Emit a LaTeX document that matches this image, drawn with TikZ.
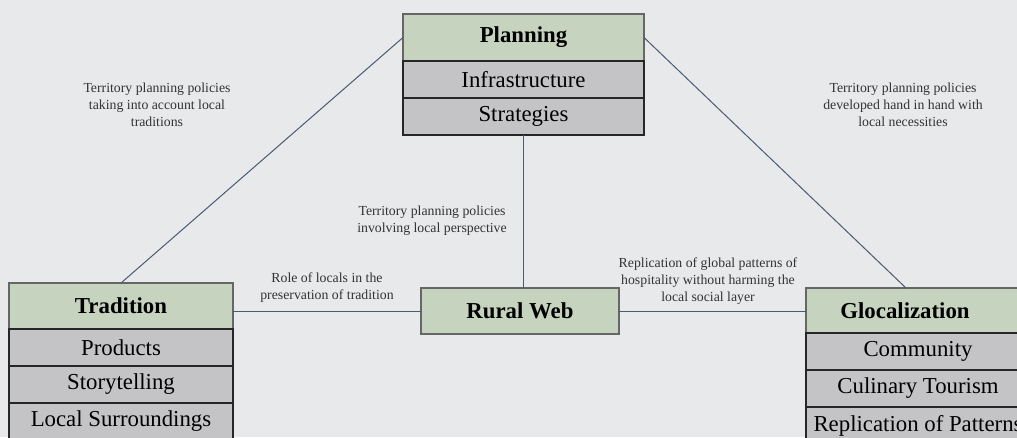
\documentclass[tikz,border=0pt]{standalone}
\usepackage{fontspec}
\setmainfont{Liberation Serif}
\usetikzlibrary{positioning}
\definecolor{bgcol}{HTML}{E8E9EB}
\definecolor{headcol}{HTML}{C6D3BE}
\definecolor{rowcol}{HTML}{C4C4C6}
\definecolor{linkcol}{HTML}{4B5A6E}
\tikzset{%
  header/.style = {shape=rectangle, draw=black!60, line width=1.2pt,%
                   fill=headcol, inner sep=0pt, outer sep=0pt,%
                   minimum height=46pt,%
                   font=\fontsize{22.8}{26}\selectfont\bfseries},%
  item/.style   = {shape=rectangle, draw=black!85, line width=1.2pt,%
                   fill=rowcol, inner sep=0pt, outer sep=0pt,%
                   minimum height=37pt,%
                   font=\fontsize{22.8}{26}\selectfont},%
  note/.style   = {align=center, text=black!80, inner sep=0pt,%
                   font=\fontsize{13.8}{17}\selectfont},%
  link/.style   = {draw=linkcol, line width=1pt}%
}
\begin{document}
\begin{tikzpicture}[x=1pt,y=-1pt,node distance=0pt]
	\clip (0,0) rectangle (1017,437);
	\fill [bgcol] (0,0) rectangle (1017,437);
	\node [header, anchor=north, minimum width=241pt, minimum height=47pt] (plan) at (523.5,14) {Planning};
	\node [item, minimum width=241pt, below=of plan] (infra) {Infrastructure};
	\node [item, minimum width=241pt, below=of infra] (strat) {Strategies};
	\node [header, anchor=north, minimum width=224pt] (trad) at (121,283) {Tradition};
	\node [item, minimum width=224pt, below=of trad] (prod) {Products};
	\node [item, minimum width=224pt, below=of prod] (story) {Storytelling};
	\node [item, minimum width=224pt, below=of story] (surr) {Local Surroundings};
	\node [header, anchor=north, minimum width=224pt, minimum height=45pt] (gloc) at (918,288) {Glocalization\hspace*{26pt}};
	\node [item, minimum width=224pt, below=of gloc] (comm) {Community};
	\node [item, minimum width=224pt, below=of comm] (culin) {Culinary Tourism};
	\node [item, minimum width=224pt, below=of culin] (repl) {Replication of Patterns};
	\node [header, minimum width=198pt] (web) at (520,311) {Rural Web};
	\node [note] (tradplan) at (157,105) {Territory planning policies\\taking into account local\\traditions};
	\node [note] (glocplan) at (903,105) {Territory planning policies\\developed hand in hand with\\local necessities};
	\node [note] (planweb) at (432,221) {Territory planning policies\\involving local perspective};
	\node [note] (tradweb) at (327,288) {Role of locals in the\\preservation of tradition};
	\node [note] (webgloc) at (708,281) {Replication of global patterns of\\hospitality without harming the\\local social layer};
	\draw [link] (plan.west) -- (trad.north);
	\draw [link] (plan.east) -- ([xshift=-12pt]gloc.north);
	\draw [link] (strat.south) -- (strat.south |- web.north);
	\draw [link] (web.west) -- (web.west -| trad.east);
	\draw [link] (web.east) -- (web.east -| gloc.west);
\end{tikzpicture}
\end{document}
